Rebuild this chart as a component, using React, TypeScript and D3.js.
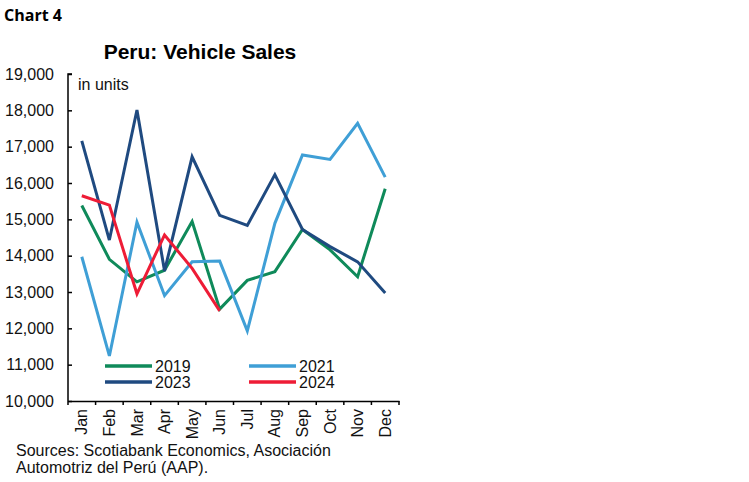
import React, { useEffect, useRef } from 'react';
import * as d3 from 'd3';

const months = ['Jan', 'Feb', 'Mar', 'Apr', 'May', 'Jun', 'Jul', 'Aug', 'Sep', 'Oct', 'Nov', 'Dec'];
const yTicks = [10000, 11000, 12000, 13000, 14000, 15000, 16000, 17000, 18000, 19000];

const sales2019 = [15380, 13900, 13280, 13600, 14940, 12530, 13320, 13560, 14720, 14160, 13420, 15840];
const sales2021 = [13970, 11240, 14920, 12900, 13830, 13850, 11930, 14890, 16770, 16650, 17640, 16160];
const sales2023 = [17160, 14430, 18010, 13580, 16720, 15110, 14830, 16230, 14720, 14250, 13830, 12970];
const sales2024 = [15650, 15390, 12950, 14570, 13650, 12480];

const seriesNames = ['2019', '2021', '2023', '2024'];
const seriesColors = ['#0f8a5a', '#3f9fd6', '#1f4a80', '#ee1c36'];

const FONT = '"Liberation Sans", Arial, sans-serif';

export default function App() {
  const svgRef = useRef<SVGSVGElement>(null);

  useEffect(() => {
    if (!svgRef.current) return;
    const svg = d3.select(svgRef.current);
    svg.selectAll('*').remove();

    const width = 749;
    const height = 482;
    svg.attr('width', width).attr('height', height);

    svg.append('rect').attr('width', width).attr('height', height).attr('fill', '#fff');

    const x = d3.scaleBand<string>().domain(months).range([68, 399]);
    const y = d3.scaleLinear().domain([10000, 19000]).range([401, 74]);

    // header
    svg.append('text')
      .attr('x', 4).attr('y', 21)
      .style('font-family', '"Open Sans", Lato, sans-serif')
      .style('font-weight', 'bold')
      .style('font-size', '16px')
      .text('Chart 4');

    svg.append('text')
      .attr('x', 200).attr('y', 59)
      .attr('text-anchor', 'middle')
      .style('font-family', FONT)
      .style('font-weight', 'bold')
      .style('font-size', '21px')
      .text('Peru: Vehicle Sales');

    // y axis
    const yAxis = svg.append('g')
      .attr('transform', 'translate(68,0)')
      .call(d3.axisRight(y).tickValues(yTicks).tickSize(4).tickFormat(() => ''));
    yAxis.select('.domain').attr('stroke', '#000').attr('stroke-width', 1.5).attr('d', `M4,74H0V401`);
    yAxis.selectAll('.tick line').attr('stroke', '#000').attr('stroke-width', 1.5);

    svg.append('g')
      .selectAll('text')
      .data(yTicks)
      .enter().append('text')
      .attr('x', 54)
      .attr('y', (d) => y(d))
      .attr('dy', '0.35em')
      .attr('text-anchor', 'end')
      .style('font-family', FONT)
      .style('font-size', '16px')
      .style('fill', '#111')
      .text((d) => d3.format(',')(d));

    // x axis
    const xAxis = svg.append('g')
      .attr('transform', 'translate(0,401)')
      .call(d3.axisBottom(x).tickSize(0).tickFormat(() => ''));
    xAxis.select('.domain').attr('stroke', '#000').attr('stroke-width', 1.5);
    const edges = d3.range(months.length + 1).map((i) => 68 + i * x.step());
    svg.append('g')
      .selectAll('line')
      .data(edges)
      .enter().append('line')
      .attr('x1', (d) => d).attr('x2', (d) => d)
      .attr('y1', 401).attr('y2', 405)
      .attr('stroke', '#000').attr('stroke-width', 1.5);

    svg.append('g')
      .selectAll('text')
      .data(months)
      .enter().append('text')
      .attr('transform', (d) => `translate(${(x(d) ?? 0) + x.bandwidth() / 2},409) rotate(-90)`)
      .attr('dy', '0.35em')
      .attr('text-anchor', 'end')
      .style('font-family', FONT)
      .style('font-size', '16px')
      .style('fill', '#111')
      .text((d) => d);

    svg.append('text')
      .attr('x', 78).attr('y', 90)
      .style('font-family', FONT)
      .style('font-size', '16px')
      .style('fill', '#111')
      .text('in units');

    // lines
    const allSeries = [sales2019, sales2021, sales2023, sales2024];
    const line = d3.line<number>()
      .x((_, i) => (x(months[i]) ?? 0) + x.bandwidth() / 2)
      .y((d) => y(d));

    svg.append('g')
      .selectAll('path')
      .data(allSeries)
      .enter().append('path')
      .attr('d', (d) => line(d))
      .attr('fill', 'none')
      .attr('stroke', (_, i) => seriesColors[i])
      .attr('stroke-width', 3)
      .attr('stroke-linejoin', 'miter');

    // legend
    const legend = svg.append('g');
    seriesNames.forEach((name, i) => {
      const lx = i % 2 === 0 ? 105 : 249;
      const ly = i < 2 ? 366 : 382;
      legend.append('line')
        .attr('x1', lx).attr('x2', lx + 47)
        .attr('y1', ly).attr('y2', ly)
        .attr('stroke', seriesColors[i])
        .attr('stroke-width', 3.5);
      legend.append('text')
        .attr('x', lx + 50).attr('y', ly)
        .attr('dy', '0.36em')
        .style('font-family', FONT)
        .style('font-size', '16px')
        .style('fill', '#111')
        .text(name);
    });

    // sources
    const src = svg.append('text')
      .style('font-family', FONT)
      .style('font-size', '16px')
      .style('fill', '#111');
    src.append('tspan').attr('x', 16).attr('y', 456).text('Sources: Scotiabank Economics, Asociación');
    src.append('tspan').attr('x', 16).attr('y', 473).text('Automotriz del Perú (AAP).');
  }, []);

  return (
    <div>
      <svg ref={svgRef} style={{ position: 'absolute', left: 0, top: 0, display: 'block' }}></svg>
    </div>
  );
}
